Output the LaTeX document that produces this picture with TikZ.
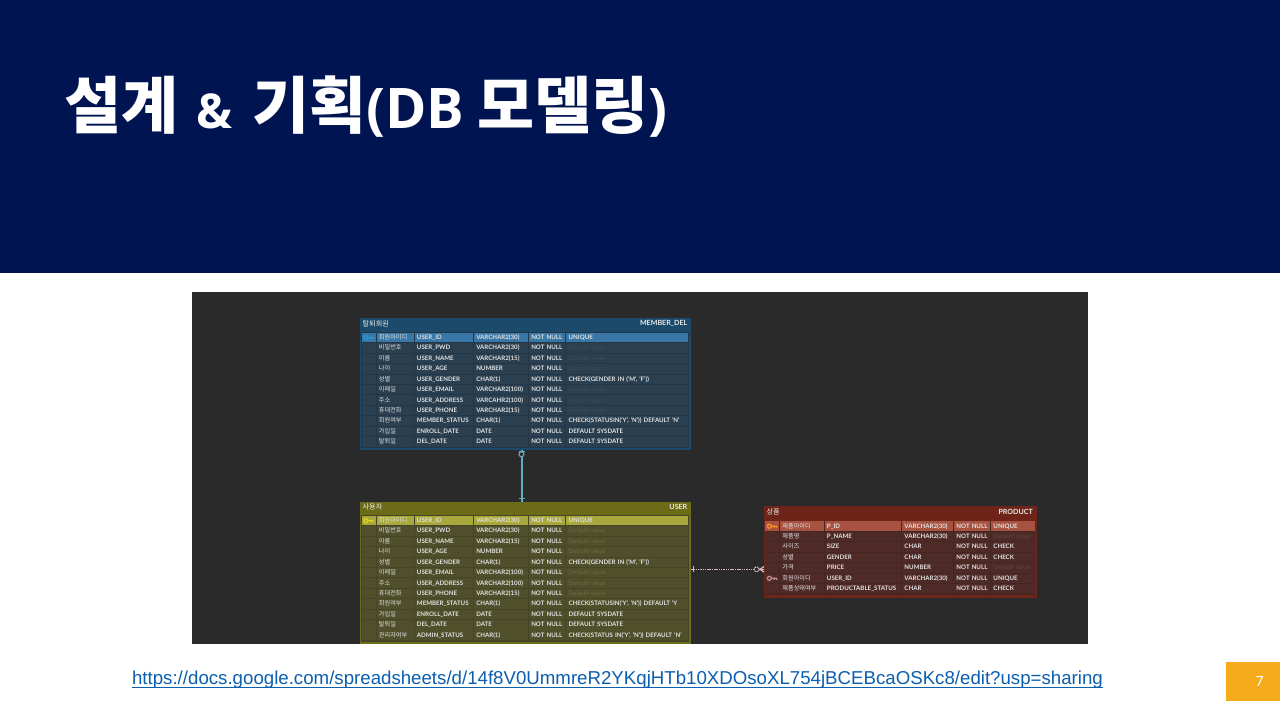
\documentclass[tikz,border=0pt]{standalone}
\usepackage{fontspec}
\setmainfont{Lato}[BoldFont={Lato Bold}]
\newfontfamily\krfont{Noto Sans CJK KR}
\newfontfamily\titlelatin{Open Sans}
\newfontfamily\urlfont{Liberation Sans}
\newcommand{\kr}[1]{{\krfont\mdseries #1}}
\usetikzlibrary{positioning}

\definecolor{navy}{HTML}{001451}
\definecolor{panel}{HTML}{2A2A2A}
\definecolor{orangebox}{HTML}{F5AB1B}
\definecolor{linkblue}{HTML}{0B5FB0}
\definecolor{celltext}{HTML}{E2E2E2}

\tikzset{
	cell/.style={rectangle, anchor=west, fill=cellc, text=celltext, minimum width=#1 pt, minimum height=9.5pt, outer sep=0pt,
		text width={#1 pt-4.5pt}, inner xsep=2.25pt, inner ysep=0pt, text height=5pt, text depth=1.2pt, font=\fontsize{6.15}{7}\bfseries\selectfont},
	erd/.style={rectangle, anchor=north west, inner sep=0pt, line width=1pt},
	erdbody/.style={rectangle, anchor=north west, inner sep=0pt, fill=rowc!88!black},
	tabletitle/.style={inner sep=0pt, text=white!92!black, font=\fontsize{7.1}{8}\bfseries\selectfont},
	keyicon/.style={line width=1.25pt, draw=#1},
	ringmark/.style={circle, draw=#1, fill=panel, line width=1.1pt, inner sep=0pt, minimum size=5pt},
	barmark/.style={rectangle, fill=#1, inner sep=0pt},
}

% one row of a table: prefix, row number, then the five texts
\newcommand{\erdrow}[7]{%
	\pgfmathsetmacro\rowy{\toprow+(#2-1)*10.42}
	\ifnum#2=1 \colorlet{cellc}{pkc}\else \colorlet{cellc}{rowc}\fi
	\node[cell=\cwa] (#1a#2) at (\xtab,\rowy) {};
	\node[cell=\cwb, right=1pt of #1a#2] (#1b#2) {\kr{#3}};
	\node[cell=\cwc, right=1pt of #1b#2] (#1c#2) {#4};
	\node[cell=\cwd, right=1pt of #1c#2] (#1d#2) {#5};
	\node[cell=\cwe, right=1pt of #1d#2] (#1e#2) {#6};
	\node[cell=\cwf, right=1pt of #1e#2] (#1f#2) {#7};
}
\newcommand{\keyat}[2]{\draw[keyicon=#2, shift={(#1.center)}] (-2.8,0) circle (2pt) (-.8,0) -- (4.6,0) (2,0) -- (2,1.5) (4.6,0) -- (4.6,1.5);}
\newcommand{\dflt}{\textcolor{dimc}{\mdseries Default value}}

\begin{document}
\begin{tikzpicture}[x=1pt,y=-1pt]
	\useasboundingbox (0,0) rectangle (1280,720);
	\fill[white] (0,0) rectangle (1280,720);

	\node (banner) [rectangle, anchor=north west, fill=navy, minimum width=1280pt, minimum height=273pt, inner sep=0pt] at (0,0) {};
	\node (title) [anchor=base west, inner sep=0pt, text=white, font=\fontsize{62}{64}\bfseries\selectfont] at (64,128) {{\krfont 설계}\hspace{18pt}{\titlelatin\fontsize{48}{52}\selectfont\&}\hspace{20pt}{\krfont 기획}{\titlelatin\fontsize{56}{60}\selectfont(DB}\hspace{13pt}{\krfont 모델링}{\titlelatin\fontsize{56}{60}\selectfont)}};
	\node (shot) [rectangle, anchor=north west, fill=panel, minimum width=896pt, minimum height=352pt, inner sep=0pt] at (192,292) {};

	% MEMBER_DEL
	\definecolor{headc}{HTML}{1C4A6B}
	\definecolor{rowc}{HTML}{2A3F50}
	\definecolor{pkc}{HTML}{3877A6}
	\definecolor{dimc}{HTML}{3F4A54}
	\def\cwa{14}\def\cwb{37}\def\cwc{58.3}\def\cwd{54}\def\cwe{36.4}\def\cwf{121.6}
	\node (member) [erd, draw=headc, fill=headc, minimum width=330pt, minimum height=130.5pt] at (360,318) {};
	\node (memberbody) [erdbody, minimum width=328pt, minimum height=116pt] at (361,331.8) {};
	\node (membername) [tabletitle, anchor=west] at (362.5,323.5) {\kr{탈퇴회원}};
	\node (membercode) [tabletitle, anchor=east] at (687.5,323.5) {MEMBER\_DEL};
	\def\xtab{361.7}\def\toprow{337.6}
	\foreach \i/\ko/\col/\typ/\nn/\val in {
		1/회원아이디/USER\_ID/VARCHAR2(30)/NOT NULL/UNIQUE,
		2/비밀번호/USER\_PWD/VARCHAR2(30)/NOT NULL/\dflt,
		3/이름/USER\_NAME/VARCHAR2(15)/NOT NULL/\dflt,
		4/나이/USER\_AGE/NUMBER/NOT NULL/\dflt,
		5/성별/USER\_GENDER/CHAR(1)/NOT NULL/{CHECK(GENDER IN ('M', 'F'))},
		6/이메일/USER\_EMAIL/VARCHAR2(100)/NOT NULL/\dflt,
		7/주소/USER\_ADDRESS/VARCAHR2(100)/NOT NULL/\dflt,
		8/휴대전화/USER\_PHONE/VARCHAR2(15)/NOT NULL/\dflt,
		9/회원여부/MEMBER\_STATUS/CHAR(1)/NOT NULL/{CHECK(STATUSIN('Y', 'N')) DEFAULT 'N'},
		10/가입일/ENROLL\_DATE/DATE/NOT NULL/DEFAULT SYSDATE,
		11/탈퇴일/DEL\_DATE/DATE/NOT NULL/DEFAULT SYSDATE}
		{\erdrow{m}{\i}{\ko}{\col}{\typ}{\nn}{\val}}
	\keyat{ma1}{cyan!70!blue!85!white}

	% USER
	\definecolor{headc}{HTML}{6B6B18}
	\definecolor{rowc}{HTML}{4F4F2B}
	\definecolor{pkc}{HTML}{A8A83C}
	\definecolor{dimc}{HTML}{6B6B45}
	\node (user) [erd, draw=headc, fill=headc, minimum width=330pt, minimum height=141pt] at (360,502) {};
	\node (userbody) [erdbody, minimum width=328pt, minimum height=127pt] at (361,515) {};
	\node (username) [tabletitle, anchor=west] at (362.5,507) {\kr{사용자}};
	\node (usercode) [tabletitle, anchor=east] at (687.5,507) {USER};
	\def\xtab{361.7}\def\toprow{520.6}
	\foreach \i/\ko/\col/\typ/\nn/\val in {
		1/회원아이디/USER\_ID/VARCHAR2(30)/NOT NULL/UNIQUE,
		2/비밀번호/USER\_PWD/VARCHAR2(30)/NOT NULL/\dflt,
		3/이름/USER\_NAME/VARCHAR2(15)/NOT NULL/\dflt,
		4/나이/USER\_AGE/NUMBER/NOT NULL/\dflt,
		5/성별/USER\_GENDER/CHAR(1)/NOT NULL/{CHECK(GENDER IN ('M', 'F'))},
		6/이메일/USER\_EMAIL/VARCHAR2(100)/NOT NULL/\dflt,
		7/주소/USER\_ADDRESS/VARCHAR2(100)/NOT NULL/\dflt,
		8/휴대전화/USER\_PHONE/VARCHAR2(15)/NOT NULL/\dflt,
		9/회원여부/MEMBER\_STATUS/CHAR(1)/NOT NULL/{CHECK(STATUSIN('Y', 'N')) DEFAULT 'Y},
		10/가입일/ENROLL\_DATE/DATE/NOT NULL/DEFAULT SYSDATE,
		11/탈퇴일/DEL\_DATE/DATE/NOT NULL/DEFAULT SYSDATE,
		12/관리자여부/ADMIN\_STATUS/CHAR(1)/NOT NULL/{CHECK(STATUS IN('Y', 'N')) DEFAULT 'N'}}
		{\erdrow{u}{\i}{\ko}{\col}{\typ}{\nn}{\val}}
	\keyat{ua1}{yellow!85!black}

	% PRODUCT
	\definecolor{headc}{HTML}{6E2418}
	\definecolor{rowc}{HTML}{4F2B27}
	\definecolor{pkc}{HTML}{A85242}
	\definecolor{dimc}{HTML}{5E4640}
	\def\cwa{14}\def\cwb{43.5}\def\cwc{76.5}\def\cwd{51}\def\cwe{36}\def\cwf{43.5}
	\node (product) [erd, draw=headc, fill=headc, minimum width=272pt, minimum height=91pt] at (764,506) {};
	\node (productbody) [erdbody, minimum width=270pt, minimum height=74pt] at (765,520.8) {};
	\node (productname) [tabletitle, anchor=west] at (766.5,512) {\kr{상품}};
	\node (productcode) [tabletitle, anchor=east] at (1033,512) {PRODUCT};
	\def\xtab{765.2}\def\toprow{526.2}
	\foreach \i/\ko/\col/\typ/\nn/\val in {
		1/제품아이디/P\_ID/VARCHAR2(30)/NOT NULL/UNIQUE,
		2/제품명/P\_NAME/VARCHAR2(30)/NOT NULL/\dflt,
		3/사이즈/SIZE/CHAR/NOT NULL/CHECK,
		4/성별/GENDER/CHAR/NOT NULL/CHECK,
		5/가격/PRICE/NUMBER/NOT NULL/\dflt,
		6/회원아이디/USER\_ID/VARCHAR2(30)/NOT NULL/UNIQUE,
		7/제품상태여부/PRODUCTABLE\_STATUS/CHAR/NOT NULL/CHECK}
		{\erdrow{p}{\i}{\ko}{\col}{\typ}{\nn}{\val}}
	\keyat{pa1}{orange!85!white}
	\keyat{pa6}{red!25!white!75!black}

	% relations
	\definecolor{tealline}{HTML}{5FB0BE}
	\definecolor{pinkline}{HTML}{DDB8C4}
	\coordinate (memberlink) at (521.5,470);
	\coordinate (productlink) at (725,569.3);
	\draw[draw=tealline, line width=2pt] (member.south -| memberlink) -- (user.north -| memberlink)
		node[pos=.035, barmark=tealline, minimum width=6pt, minimum height=1.2pt] {}
		node[pos=.09, ringmark=tealline] {}
		node[pos=.93, barmark=tealline, minimum width=6pt, minimum height=1.2pt] {};
	\draw[draw=pinkline, line width=1.2pt, dash pattern=on 1.5pt off .8pt] (user.east |- productlink) -- (product.west |- productlink)
		node[pos=.035, barmark=pinkline, minimum width=1.2pt, minimum height=6pt] {}
		node[pos=.9, ringmark=pinkline] {};
	\draw[draw=pinkline, line width=1.2pt] (product.west |- productlink) ++(0,-2.8) -- ++(-4,2.8) -- ++(4,2.8);

	\node (sheetlink) [anchor=base, inner sep=0pt, text=linkblue, font=\fontsize{18.67}{20}\urlfont\selectfont] at (617.5,684.5) {https://docs.google.com/spreadsheets/d/14f8V0UmmreR2YKqjHTb10XDOsoXL754jBCEBcaOSKc8/edit?usp=sharing};
	\draw[draw=linkblue, line width=1.2pt] ([yshift=-3.2pt]sheetlink.base west) -- ([yshift=-3.2pt]sheetlink.base east);
	\node (pagebox) [rectangle, anchor=north west, fill=orangebox, text=white, inner sep=0pt, minimum width=54pt, minimum height=39pt] at (1226,662) {};
	\node (pagenum) [text=white, inner sep=0pt, font=\fontsize{14}{16}\selectfont] at (pagebox.center) {\hspace{13pt}7};
\end{tikzpicture}
\end{document}
